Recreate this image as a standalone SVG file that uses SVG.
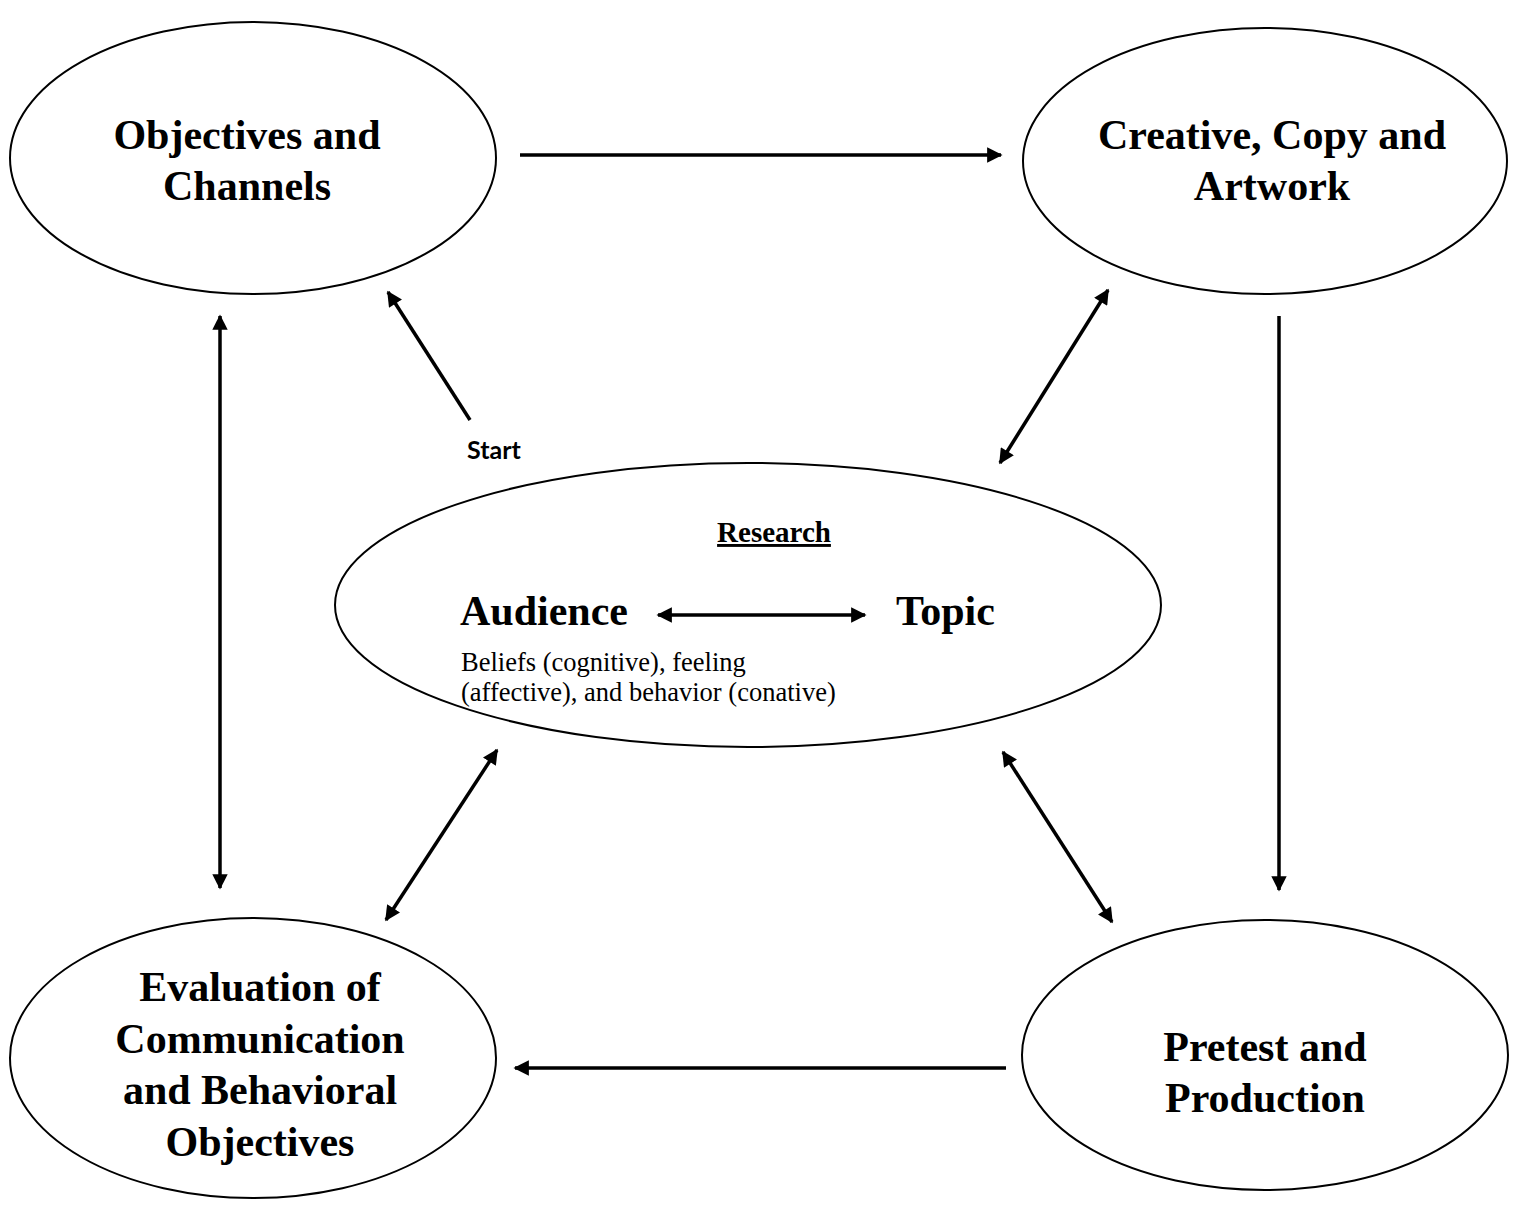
<svg xmlns="http://www.w3.org/2000/svg" width="1518" height="1212" viewBox="0 0 1518 1212">
<style>
.n{fill:#fff;stroke:#000;stroke-width:2}
.t{font-family:"Liberation Serif",serif;font-weight:bold;font-size:42px;text-anchor:middle;fill:#000}
.c{stroke:#000;stroke-width:3.5;fill:none}
.s{font-family:"Liberation Serif",serif;font-size:26.5px;fill:#000}
</style>
<defs>
<marker id="ah" viewBox="0 0 10 10" refX="9" refY="5" markerWidth="4.6" markerHeight="4.4" orient="auto-start-reverse" markerUnits="strokeWidth">
<path d="M0,0 L10,5 L0,10 z" fill="#000"/>
</marker>
</defs>
<rect width="1518" height="1212" fill="#fff"/>
<g id="objectives">
<ellipse class="n" cx="253" cy="158" rx="243" ry="136"/>
<text class="t" x="247" y="149">Objectives and</text>
<text class="t" x="247" y="200">Channels</text>
</g>
<g id="creative">
<ellipse class="n" cx="1265" cy="161" rx="242" ry="133"/>
<text class="t" x="1272" y="149">Creative, Copy and</text>
<text class="t" x="1272" y="200">Artwork</text>
</g>
<g id="research">
<ellipse class="n" cx="748" cy="605" rx="413" ry="142"/>
<text x="774" y="542" font-family="Liberation Serif, serif" font-weight="bold" font-size="29" text-anchor="middle" text-decoration="underline">Research</text>
<text x="460" y="625" font-family="Liberation Serif, serif" font-weight="bold" font-size="42">Audience</text>
<text x="896" y="625" font-family="Liberation Serif, serif" font-weight="bold" font-size="42">Topic</text>
<text class="s" x="461" y="671">Beliefs (cognitive), feeling</text>
<text class="s" x="461" y="701">(affective), and behavior (conative)</text>
</g>
<g id="evaluation">
<ellipse class="n" cx="253" cy="1058" rx="243" ry="140"/>
<text class="t" x="260" y="1001">Evaluation of</text>
<text class="t" x="260" y="1053">Communication</text>
<text class="t" x="260" y="1104">and Behavioral</text>
<text class="t" x="260" y="1156">Objectives</text>
</g>
<g id="pretest">
<ellipse class="n" cx="1265" cy="1055" rx="243" ry="135"/>
<text class="t" x="1265" y="1061">Pretest and</text>
<text class="t" x="1265" y="1112">Production</text>
</g>
<g id="start">
<text x="467" y="459" font-family="Lato, Open Sans, sans-serif" font-weight="bold" font-size="25">Start</text>
</g>
<g id="connectors">
<line class="c" x1="520" y1="155" x2="1001" y2="155" marker-end="url(#ah)"/>
<line class="c" x1="1279" y1="316" x2="1279" y2="890" stroke-width="3" marker-end="url(#ah)"/>
<line class="c" x1="1006" y1="1068" x2="515" y2="1068" marker-end="url(#ah)"/>
<line class="c" x1="220" y1="316" x2="220" y2="888" marker-start="url(#ah)" marker-end="url(#ah)"/>
<line class="c" x1="470" y1="420" x2="388" y2="292" marker-end="url(#ah)"/>
<line class="c" x1="1108" y1="290" x2="1000" y2="463" marker-start="url(#ah)" marker-end="url(#ah)"/>
<line class="c" x1="497" y1="750" x2="386" y2="920" marker-start="url(#ah)" marker-end="url(#ah)"/>
<line class="c" x1="1003" y1="752" x2="1112" y2="922" marker-start="url(#ah)" marker-end="url(#ah)"/>
<line class="c" x1="658" y1="615" x2="865" y2="615" marker-start="url(#ah)" marker-end="url(#ah)"/>
</g>
</svg>
